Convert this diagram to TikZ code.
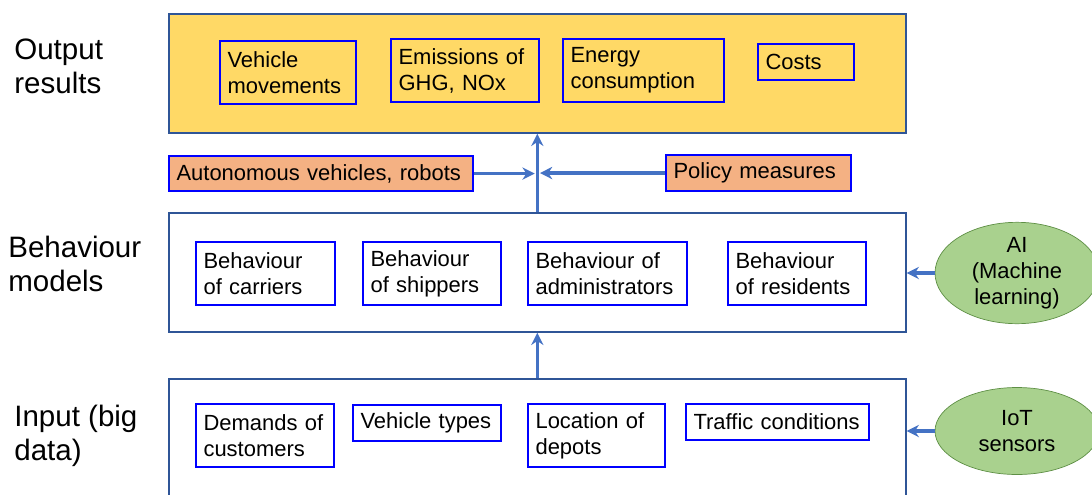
\documentclass[tikz,border=0pt]{standalone}
\usepackage{fontspec}
\setmainfont{Liberation Sans}
\usetikzlibrary{arrows.meta,shapes.geometric}
\definecolor{outyellow}{HTML}{FFD966}
\definecolor{frameblue}{HTML}{2F5597}
\definecolor{boxblue}{HTML}{0000FF}
\definecolor{arrowblue}{HTML}{4472C4}
\definecolor{factorfill}{HTML}{F4B183}
\definecolor{srcfill}{HTML}{A9D18E}
\definecolor{srcline}{HTML}{5E8F45}

\begin{document}
\begin{tikzpicture}[x=0.02cm,y=-0.02cm,
  frame/.style={draw=frameblue,line width=1pt,anchor=north west,minimum width=14.74cm,minimum height=2.38cm,inner sep=0},
  inbox/.style={draw=boxblue,line width=1.2pt,anchor=north west,align=left,inner xsep=0.15cm,inner ysep=0,font=\fontsize{12.5}{14.8}\selectfont},
  flow/.style={draw=arrowblue,line width=2pt,-{Stealth[length=7pt,width=7pt]}},
  source/.style={ellipse,draw=srcline,fill=srcfill,minimum width=3.28cm,minimum height=1.74cm,align=center,inner sep=0,font=\fontsize{12.5}{14.8}\selectfont},
  side/.style={anchor=west,align=left,inner sep=0,font=\fontsize{16.8}{19.4}\selectfont}]
  \useasboundingbox (0,0) rectangle (1092,494);

  % layer labels
  \node [side] (lout) at (14,66) {Output\\results};
  \node [side] (lbeh) at (8,264) {Behaviour\\models};
  \node [side] (linp) at (14,436) {Input (big\\data)};

  % frames
  \node [frame,fill=outyellow] (out) at (168,13) {};
  \node [frame,fill=white] (beh) at (168,212) {};
  \node [frame,fill=white] (inp) at (168,378) {};

  % output results
  \node [inbox,text width=2.42cm,minimum height=1.26cm] (vm) at (219,40) {Vehicle\\movements};
  \node [inbox,text width=2.66cm,minimum height=1.26cm] (em) at (390,38) {Emissions of\\GHG, NOx};
  \node [inbox,text width=2.92cm,minimum height=1.26cm] (en) at (562,38) {Energy\\consumption};
  \node [inbox,text width=1.62cm,minimum height=0.72cm] (co) at (757,43) {Costs};

  % factors
  \node [inbox,fill=factorfill,text width=5.78cm,minimum height=0.70cm] (av) at (168,155) {Autonomous vehicles, robots};
  \node [inbox,fill=factorfill,text width=3.40cm,minimum height=0.72cm] (pm) at (665,154) {Policy measures};

  % behaviour models
  \node [inbox,text width=2.48cm,minimum height=1.26cm] (bc) at (195,241) {Behaviour\\of carriers};
  \node [inbox,text width=2.46cm,minimum height=1.26cm] (bs) at (362,241) {Behaviour\\of shippers};
  \node [inbox,text width=2.88cm,minimum height=1.26cm] (ba) at (527,241) {Behaviour of\\administrators};
  \node [inbox,text width=2.46cm,minimum height=1.26cm] (br) at (727,241) {Behaviour\\of residents};

  % input
  \node [inbox,text width=2.46cm,minimum height=1.26cm] (dc) at (195,403) {Demands of\\customers};
  \node [inbox,text width=2.66cm,minimum height=0.72cm] (vt) at (352,404) {Vehicle types};
  \node [inbox,text width=2.44cm,minimum height=1.26cm] (ld) at (527,403) {Location of\\depots};
  \node [inbox,text width=3.36cm,minimum height=0.72cm] (tc) at (685,403) {Traffic conditions};

  % sources
  \node [source] (ai) at (1017,273) {AI\\(Machine\\learning)};
  \node [source] (iot) at (1017,431) {IoT\\sensors};

  \coordinate (jn) at (out.south |- pm.west);
  \draw [flow] (beh.north) -- (out.south);
  \draw [flow] (inp.north) -- (beh.south);
  \draw [flow,shorten >=1.5pt] (av.east) -- (av.east -| jn);
  \draw [flow,shorten >=1.5pt] (pm.west) -- (jn);
  \draw [flow] (ai.west) -- (beh.east |- ai.west);
  \draw [flow] (iot.west) -- (inp.east |- iot.west);
\end{tikzpicture}
\end{document}
